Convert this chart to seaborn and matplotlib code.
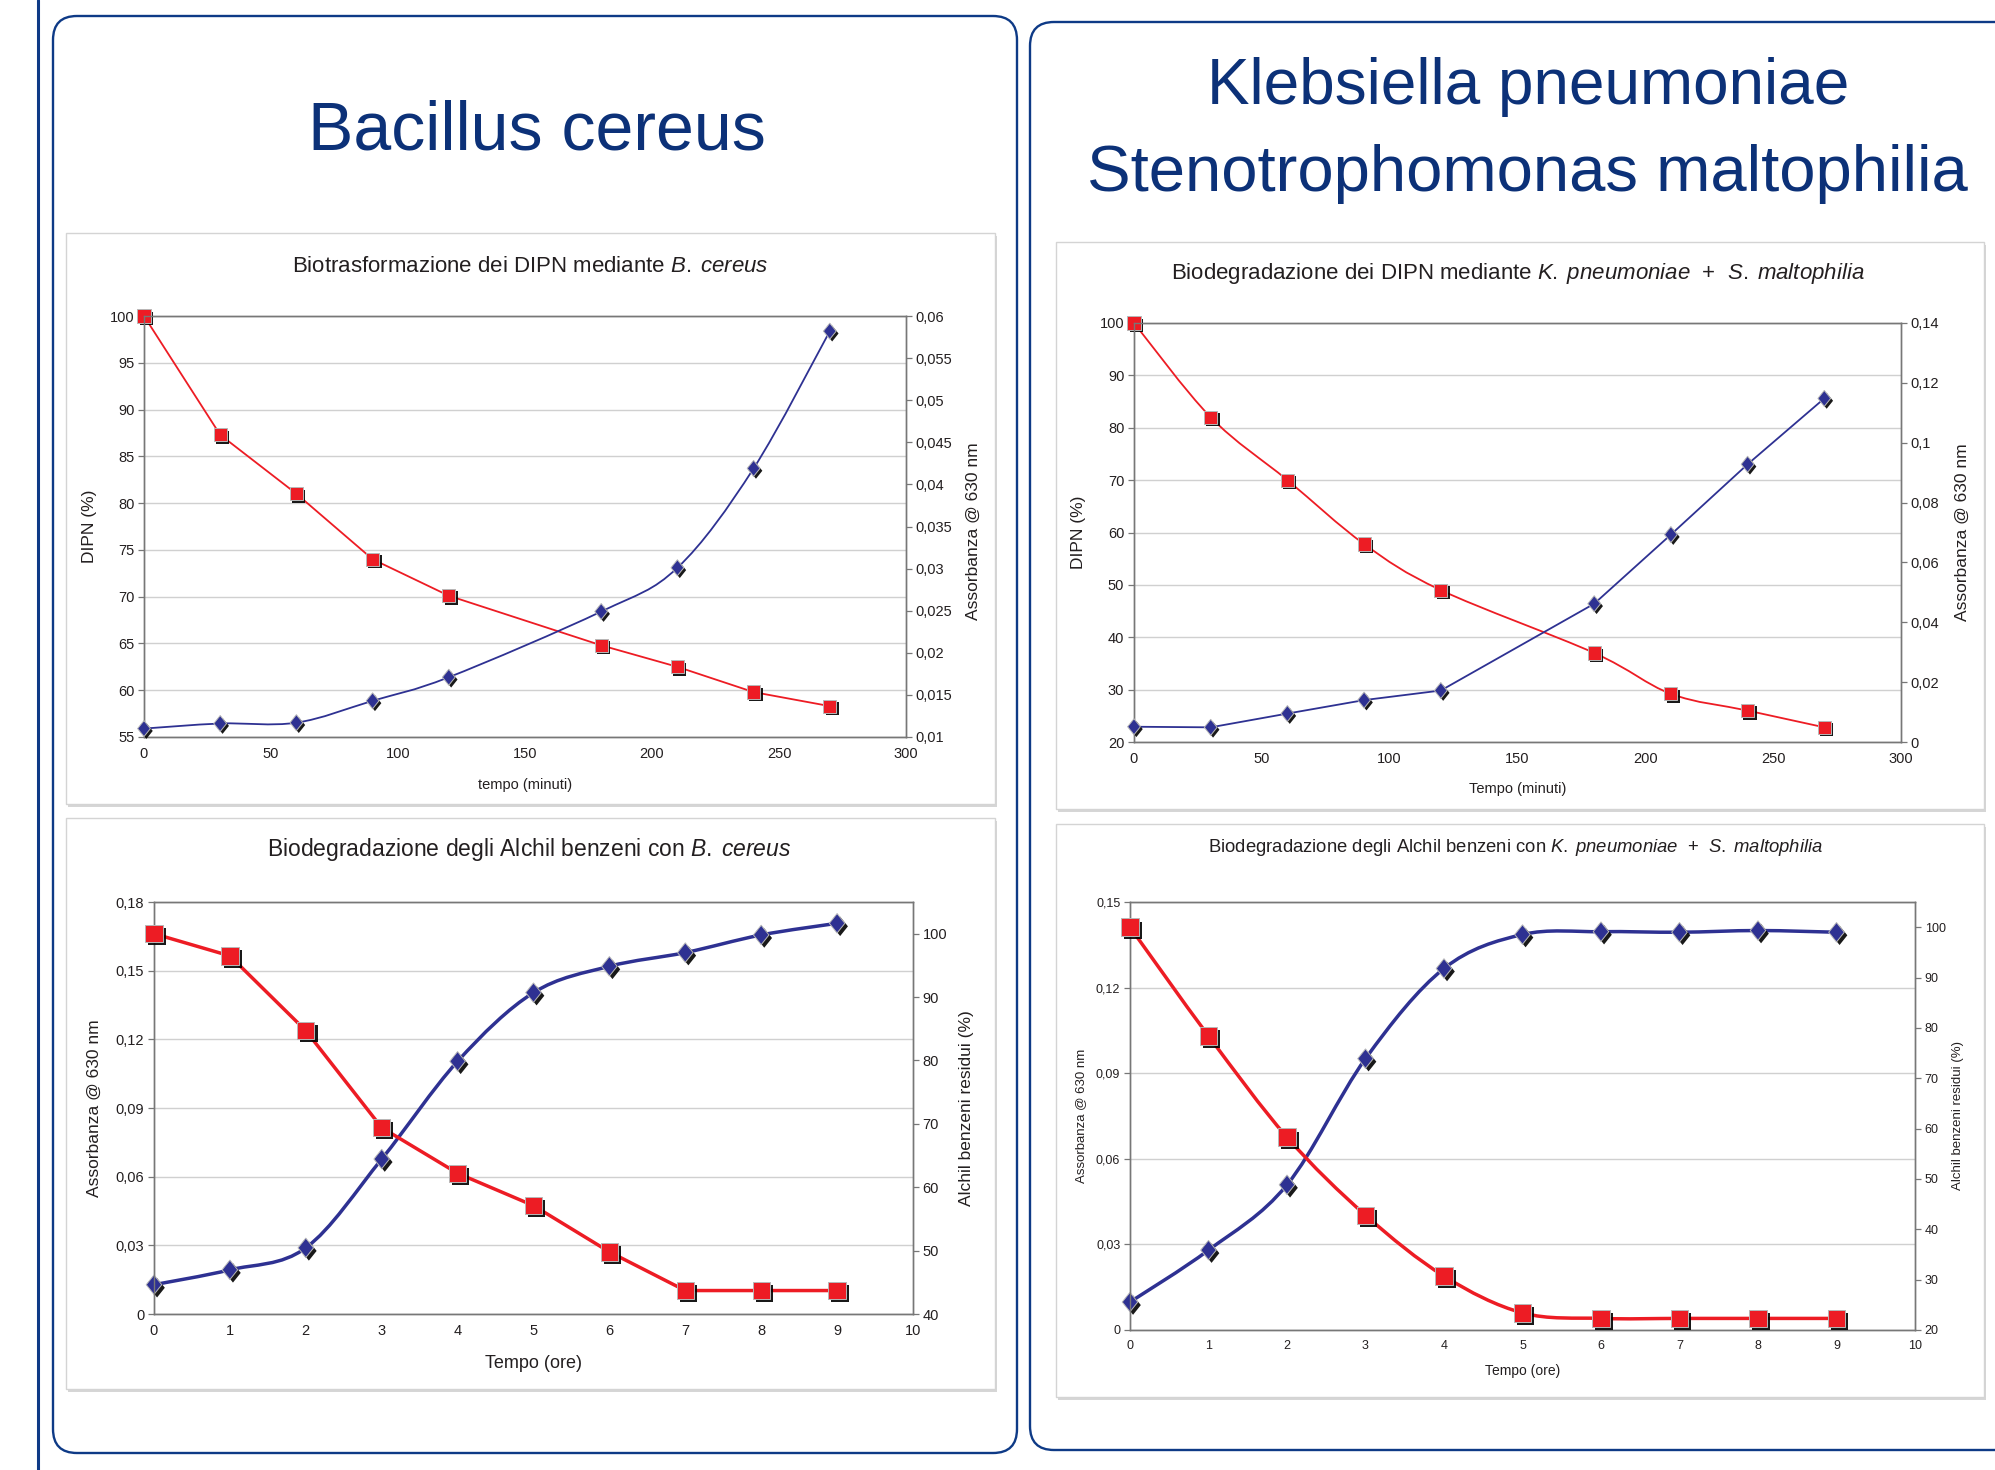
import numpy as np
import pandas as pd
import matplotlib
matplotlib.use("Agg")
import matplotlib.pyplot as plt
import seaborn as sns
from matplotlib.patches import PathPatch, FancyBboxPatch, Rectangle
from matplotlib.path import Path
from matplotlib.lines import Line2D
from matplotlib.ticker import FuncFormatter, MultipleLocator
from matplotlib.transforms import IdentityTransform
import matplotlib.patheffects as pe

# ---------------- data ----------------
t_min = [0, 30, 60, 90, 120, 180, 210, 240, 270]
bc_dipn = [100, 87.3, 81.0, 74.0, 70.1, 64.8, 62.5, 59.8, 58.3]
bc_abs = [0.0110, 0.0116, 0.0117, 0.0143, 0.0171, 0.0249, 0.0301, 0.0419, 0.0582]
kp_dipn = [100, 82.0, 70.0, 57.8, 49.0, 37.0, 29.2, 26.0, 22.8]
kp_abs = [0.0051, 0.0049, 0.0095, 0.0140, 0.0172, 0.0462, 0.0693, 0.0928, 0.1148]

t_ore = [0, 1, 2, 3, 4, 5, 6, 7, 8, 9]
bc_ab_abs = [0.0128, 0.0193, 0.0289, 0.0677, 0.1104, 0.1404, 0.1519, 0.1579, 0.1656, 0.1707]
bc_ab_res = [100, 96.5, 84.7, 69.4, 62.2, 57.1, 49.8, 43.7, 43.7, 43.7]
kp_ab_abs = [0.0098, 0.0280, 0.0509, 0.0951, 0.1267, 0.1386, 0.1396, 0.1394, 0.1400, 0.1394]
kp_ab_res = [100, 78.4, 58.3, 42.8, 30.7, 23.4, 22.3, 22.3, 22.3, 22.3]

title_left = "Bacillus cereus"
title_right = ["Klebsiella pneumoniae", "Stenotrophomonas maltophilia"]
chart_titles = [
    r"Biotrasformazione dei DIPN mediante $\mathit{B.\;cereus}$",
    r"Biodegradazione dei DIPN mediante $\mathit{K.\;pneumoniae}$  +  $\mathit{S.\;maltophilia}$",
    r"Biodegradazione degli Alchil benzeni con $\mathit{B.\;cereus}$",
    r"Biodegradazione degli Alchil benzeni con $\mathit{K.\;pneumoniae}$  +  $\mathit{S.\;maltophilia}$",
]

# ---------------- style ----------------
sns.set_theme(style="white")
plt.rcParams['font.family'] = ['Liberation Sans', 'DejaVu Sans']
plt.rcParams['mathtext.fontset'] = 'custom'
plt.rcParams['mathtext.rm'] = 'Liberation Sans'
plt.rcParams['mathtext.it'] = 'Liberation Sans:italic'

RED = '#ed1c24'
BLUE = '#2e3192'
NAVY = '#0e3a86'
TNAVY = '#0c3178'
TXT = '#231f20'
SPINE = '#777777'
GRID = '#d0d0d0'

W, H = 1995, 1470
fig = plt.figure(figsize=(W / 100, H / 100), dpi=100)
fig.patch.set_facecolor('white')
idt = IdentityTransform()

DIAMOND = Path([(0, 1), (0.8, 0), (0, -1), (-0.8, 0), (0, 1)],
               [Path.MOVETO, Path.LINETO, Path.LINETO, Path.LINETO, Path.CLOSEPOLY])


def rbox(x0, y0, x1, y1, r, ec, fc, lw, z):
    p = FancyBboxPatch((x0, H - y1), x1 - x0, y1 - y0,
                       boxstyle=f"round,pad=0,rounding_size={r}",
                       fc=fc, ec=ec, lw=lw, transform=idt, zorder=z)
    fig.add_artist(p)


def frame(x0, y0, x1, y1):
    fig.add_artist(Rectangle((x0 + 2, H - y1 - 3), x1 - x0, y1 - y0, fc='#d6d6d6',
                             ec='none', transform=idt, zorder=-3))
    fig.add_artist(Rectangle((x0, H - y1), x1 - x0, y1 - y0, fc='white',
                             ec='#d4d4d4', lw=1.0, transform=idt, zorder=-2))


def ax_at(l, t, r, b):
    return fig.add_axes([l / W, 1 - b / H, (r - l) / W, (b - t) / H])


def smooth_path(x, y):
    P = np.column_stack([x, y]).astype(float)
    n = len(P)
    verts = [P[0]]
    codes = [Path.MOVETO]
    for i in range(n - 1):
        p0 = P[i - 1] if i > 0 else P[i]
        p1 = P[i]
        p2 = P[i + 1]
        p3 = P[i + 2] if i + 2 < n else P[i + 1]
        verts += [p1 + (p2 - p0) / 6, p2 - (p3 - p1) / 6, p2]
        codes += [Path.CURVE4] * 3
    return Path(verts, codes)


def plot_series(ax, x, y, color, lw, smooth, marker, msize, z, shadow=1.7):
    if smooth:
        ax.add_patch(PathPatch(smooth_path(x, y), fill=False, ec=color, lw=lw,
                               zorder=z, clip_on=False, capstyle='round', joinstyle='round'))
    else:
        sns.lineplot(x=x, y=y, color=color, lw=lw, ax=ax, zorder=z, legend=False,
                     sort=False, estimator=None, clip_on=False)
    sns.scatterplot(x=x, y=y, marker=marker, s=msize ** 2, color=color,
                    edgecolor='#b8b8b8', linewidth=0.7, ax=ax, zorder=z + 1,
                    legend=False, clip_on=False)
    coll = ax.collections[-1]
    coll.set_path_effects([pe.SimplePatchShadow(offset=(shadow, -shadow), shadow_rgbFace='black',
                                                alpha=0.9), pe.Normal()])


def comma_fmt(v, pos):
    s = f"{v:.3f}".rstrip('0').rstrip('.')
    if s in ('', '-0'):
        s = '0'
    return s.replace('.', ',')


int_fmt = FuncFormatter(lambda v, p: f"{v:.0f}")


def style(ax, fs):
    for s in ax.spines.values():
        s.set_visible(True)
        s.set_color(SPINE)
        s.set_linewidth(1.0)
    ax.tick_params(direction='out', length=4, width=0.9, color=SPINE,
                   labelsize=fs, labelcolor=TXT, pad=3)
    ax.set_xlabel('')
    ax.set_ylabel('')


# ---------------- poster decoration ----------------
fig.add_artist(Line2D([38 / W, 38 / W], [0, 1], color=NAVY, lw=2.2, zorder=-10))
rbox(53, 16, 1017, 1453, 24, NAVY, 'white', 1.7, -8)
rbox(1030, 22, 2040, 1450, 24, NAVY, 'white', 1.7, -8)

fig.text(537 / W, 1 - 149 / H, title_left, ha='center', va='baseline',
         fontsize=49, color=TNAVY)
fig.text(1528 / W, 1 - 104 / H, title_right[0], ha='center', va='baseline',
         fontsize=46, color=TNAVY)
fig.text(1527 / W, 1 - 191 / H, title_right[1], ha='center', va='baseline',
         fontsize=47, color=TNAVY)

frame(66, 233, 995, 804)
frame(1056, 242, 1984, 809)
frame(66, 818, 995, 1389)
frame(1056, 824, 1984, 1397)

# ---------------- chart 1 ----------------
ax = ax_at(144, 316, 906, 737)
ax2 = ax.twinx()
plot_series(ax, t_min, bc_dipn, RED, 1.3, False, 's', 9.5, 3)
plot_series(ax2, t_min, bc_abs, BLUE, 1.3, True, DIAMOND, 11.5, 3)
ax.set_xlim(0, 300)
ax.set_ylim(55, 100)
ax.xaxis.set_major_locator(MultipleLocator(50))
ax.yaxis.set_major_locator(MultipleLocator(5))
ax.yaxis.set_major_formatter(int_fmt)
ax.xaxis.set_major_formatter(int_fmt)
ax2.set_ylim(0.01, 0.06)
ax2.yaxis.set_major_locator(MultipleLocator(0.005))
ax2.yaxis.set_major_formatter(FuncFormatter(comma_fmt))
ax.grid(axis='y', color=GRID, lw=1.0)
ax.grid(axis='x', visible=False)
style(ax, 10.5)
style(ax2, 10.5)
ax.text(-0.072, 0.5, "DIPN (%)", rotation=90, ha='center', va='center',
        transform=ax.transAxes, fontsize=12.5, color=TXT)
ax.text(1.088, 0.49, "Assorbanza @ 630 nm", rotation=90, ha='center', va='center',
        transform=ax.transAxes, fontsize=12.5, color=TXT)
ax.text(0.5, -0.114, "tempo (minuti)", ha='center', va='center',
        transform=ax.transAxes, fontsize=10.5, color=TXT)
fig.text(530 / W, 1 - 266 / H, chart_titles[0], ha='center', va='center',
         fontsize=16, color=TXT)

# ---------------- chart 2 ----------------
ax = ax_at(1134, 323, 1901, 742)
ax2 = ax.twinx()
plot_series(ax, t_min, kp_dipn, RED, 1.3, True, 's', 9.5, 3)
plot_series(ax2, t_min, kp_abs, BLUE, 1.3, False, DIAMOND, 11.5, 3)
ax.set_xlim(0, 300)
ax.set_ylim(20, 100)
ax.xaxis.set_major_locator(MultipleLocator(50))
ax.yaxis.set_major_locator(MultipleLocator(10))
ax.yaxis.set_major_formatter(int_fmt)
ax.xaxis.set_major_formatter(int_fmt)
ax2.set_ylim(0, 0.14)
ax2.yaxis.set_major_locator(MultipleLocator(0.02))
ax2.yaxis.set_major_formatter(FuncFormatter(comma_fmt))
ax.grid(axis='y', color=GRID, lw=1.0)
ax.grid(axis='x', visible=False)
style(ax, 10.5)
style(ax2, 10.5)
ax.text(-0.073, 0.5, "DIPN (%)", rotation=90, ha='center', va='center',
        transform=ax.transAxes, fontsize=12.5, color=TXT)
ax.text(1.080, 0.5, "Assorbanza @ 630 nm", rotation=90, ha='center', va='center',
        transform=ax.transAxes, fontsize=12.5, color=TXT)
ax.text(0.5, -0.112, "Tempo (minuti)", ha='center', va='center',
        transform=ax.transAxes, fontsize=10.5, color=TXT)
fig.text(1518 / W, 1 - 274 / H, chart_titles[1], ha='center', va='center',
         fontsize=16, color=TXT)

# ---------------- chart 3 ----------------
ax = ax_at(154, 902, 913, 1314)
ax2 = ax.twinx()
plot_series(ax, t_ore, bc_ab_abs, BLUE, 2.5, True, DIAMOND, 14, 3, shadow=2.2)
plot_series(ax2, t_ore, bc_ab_res, RED, 2.5, False, 's', 12.5, 3, shadow=2.2)
ax.set_xlim(0, 10)
ax.set_ylim(0, 0.18)
ax.xaxis.set_major_locator(MultipleLocator(1))
ax.xaxis.set_major_formatter(int_fmt)
ax.yaxis.set_major_locator(MultipleLocator(0.03))
ax.yaxis.set_major_formatter(FuncFormatter(comma_fmt))
ax2.set_ylim(40, 105)
ax2.set_yticks([40, 50, 60, 70, 80, 90, 100])
ax2.yaxis.set_major_formatter(int_fmt)
ax.grid(axis='y', color=GRID, lw=1.0)
ax.grid(axis='x', visible=False)
style(ax, 10.5)
style(ax2, 10.5)
ax.text(-0.079, 0.5, "Assorbanza @ 630 nm", rotation=90, ha='center', va='center',
        transform=ax.transAxes, fontsize=12.5, color=TXT)
ax.text(1.071, 0.5, "Alchil benzeni residui (%)", rotation=90, ha='center', va='center',
        transform=ax.transAxes, fontsize=12.5, color=TXT)
ax.text(0.5, -0.121, "Tempo (ore)", ha='center', va='center',
        transform=ax.transAxes, fontsize=13, color=TXT)
fig.text(529 / W, 1 - 849 / H, chart_titles[2], ha='center', va='center',
         fontsize=16.5, color=TXT)

# ---------------- chart 4 ----------------
ax = ax_at(1130, 902, 1915, 1330)
ax2 = ax.twinx()
plot_series(ax, t_ore, kp_ab_abs, BLUE, 2.5, True, DIAMOND, 14, 3, shadow=2.2)
plot_series(ax2, t_ore, kp_ab_res, RED, 2.5, True, 's', 12.5, 3, shadow=2.2)
ax.set_xlim(0, 10)
ax.set_ylim(0, 0.15)
ax.xaxis.set_major_locator(MultipleLocator(1))
ax.xaxis.set_major_formatter(int_fmt)
ax.yaxis.set_major_locator(MultipleLocator(0.03))
ax.yaxis.set_major_formatter(FuncFormatter(comma_fmt))
ax2.set_ylim(20, 105)
ax2.set_yticks([20, 30, 40, 50, 60, 70, 80, 90, 100])
ax2.yaxis.set_major_formatter(int_fmt)
ax.grid(axis='y', color=GRID, lw=1.0)
ax.grid(axis='x', visible=False)
style(ax, 9)
style(ax2, 9)
ax.text(-0.062, 0.5, "Assorbanza @ 630 nm", rotation=90, ha='center', va='center',
        transform=ax.transAxes, fontsize=9.5, color=TXT)
ax.text(1.055, 0.5, "Alchil benzeni residui (%)", rotation=90, ha='center', va='center',
        transform=ax.transAxes, fontsize=9.5, color=TXT)
ax.text(0.5, -0.096, "Tempo (ore)", ha='center', va='center',
        transform=ax.transAxes, fontsize=10, color=TXT)
fig.text(1516 / W, 1 - 848 / H, chart_titles[3], ha='center', va='center',
         fontsize=13.3, color=TXT)

fig.savefig('out.png', dpi=100)
